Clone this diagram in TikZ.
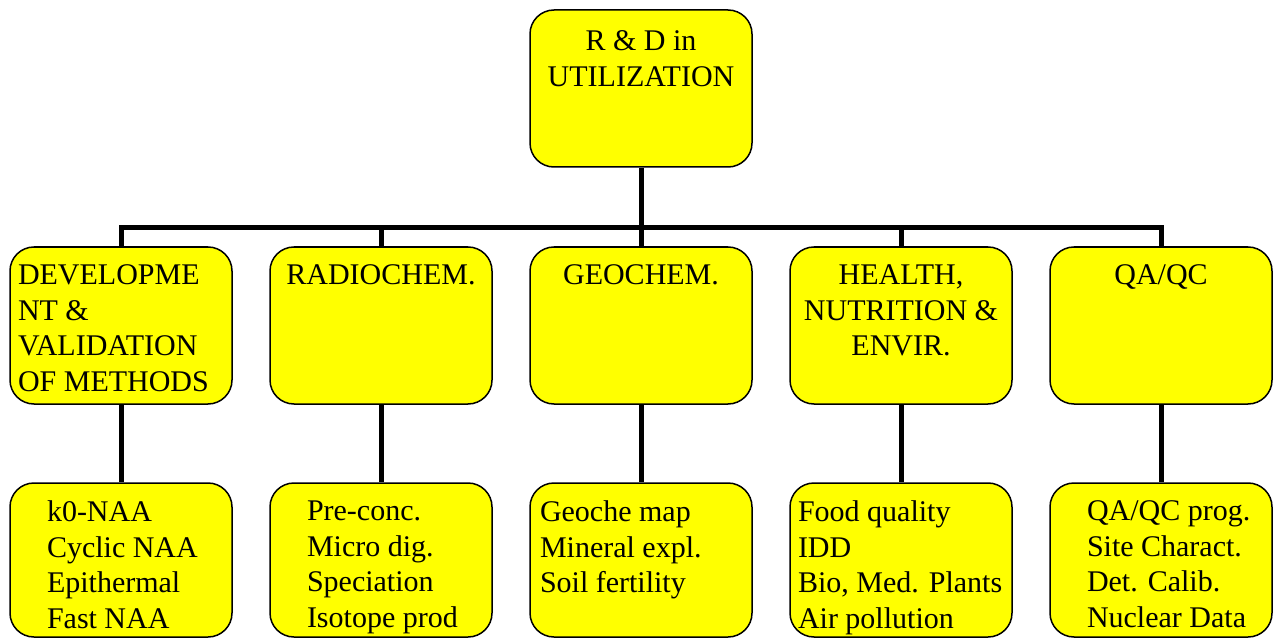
\documentclass[tikz,border=0pt]{standalone}
\usepackage{fontspec}
\setmainfont{Liberation Serif}
\usetikzlibrary{calc}
\definecolor{boxyellow}{RGB}{255,255,0}
\newcommand{\midtxt}[2][\centering]{\parbox[t][121pt][t]{206pt}{#1#2}}
\newcommand{\leaftxt}[2][0pt]{\parbox[t][118pt][t]{206pt}{\raggedright\leftskip=#1\relax#2}}

\begin{document}
\begin{tikzpicture}[x=1pt,y=-1pt,font=\fontsize{30}{35.5}\selectfont,box/.style={draw,line width=1.5pt,rounded corners=24pt,fill=boxyellow,minimum width=222pt,minimum height=157pt,inner xsep=8pt,inner ysep=18pt},leaf/.style={box,minimum height=154pt},wire/.style={line width=5pt}]
\useasboundingbox (0,0) rectangle (1277,639);
\node[box] (rd) at (641,88.5) {\midtxt{\vspace*{3pt}R \& D in\\UTILIZATION}};
\node[box] (dev) at (121,325.5) {\midtxt[\raggedright]{DEVELOPME\\NT \&\\VALIDATION\\OF METHODS}};
\node[box] (radio) at (381,325.5) {\midtxt{RADIOCHEM.}};
\node[box] (geo) at (641,325.5) {\midtxt{GEOCHEM.}};
\node[box] (health) at (901,325.5) {\midtxt{HEALTH,\\NUTRITION \&\\ENVIR.}};
\node[box] (qa) at (1161,325.5) {\midtxt{QA/QC}};
\node[leaf] (devl) at (121,560) {\leaftxt[29pt]{k0-NAA\\Cyclic NAA\\Epithermal\\Fast NAA}};
\node[leaf] (radiol) at (381,560) {\leaftxt[29pt]{Pre-conc.\\Micro dig.\\Speciation\\Isotope prod}};
\node[leaf] (geol) at (641,560) {\leaftxt[2pt]{Geoche map\\Mineral expl.\\Soil fertility}};
\node[leaf] (healthl) at (901,560) {\leaftxt{Food quality\\IDD\\Bio, Med. Plants\\Air pollution}};
\node[leaf] (qal) at (1161,560) {\leaftxt[29pt]{QA/QC prog.\\Site Charact.\\Det. Calib.\\Nuclear Data}};
\coordinate (bus) at (0,228);
\draw[wire] (rd.south)--(rd.south |- bus);
\draw[wire,line cap=rect] (dev.north |- bus)--(qa.north |- bus);
\draw[wire] (dev.north |- bus)--(dev.north);
\draw[wire] (radio.north |- bus)--(radio.north);
\draw[wire] (geo.north |- bus)--(geo.north);
\draw[wire] (health.north |- bus)--(health.north);
\draw[wire] (qa.north |- bus)--(qa.north);
\draw[wire] (dev)--(devl);
\draw[wire] (radio)--(radiol);
\draw[wire] (geo)--(geol);
\draw[wire] (health)--(healthl);
\draw[wire] (qa)--(qal);
\end{tikzpicture}
\end{document}
